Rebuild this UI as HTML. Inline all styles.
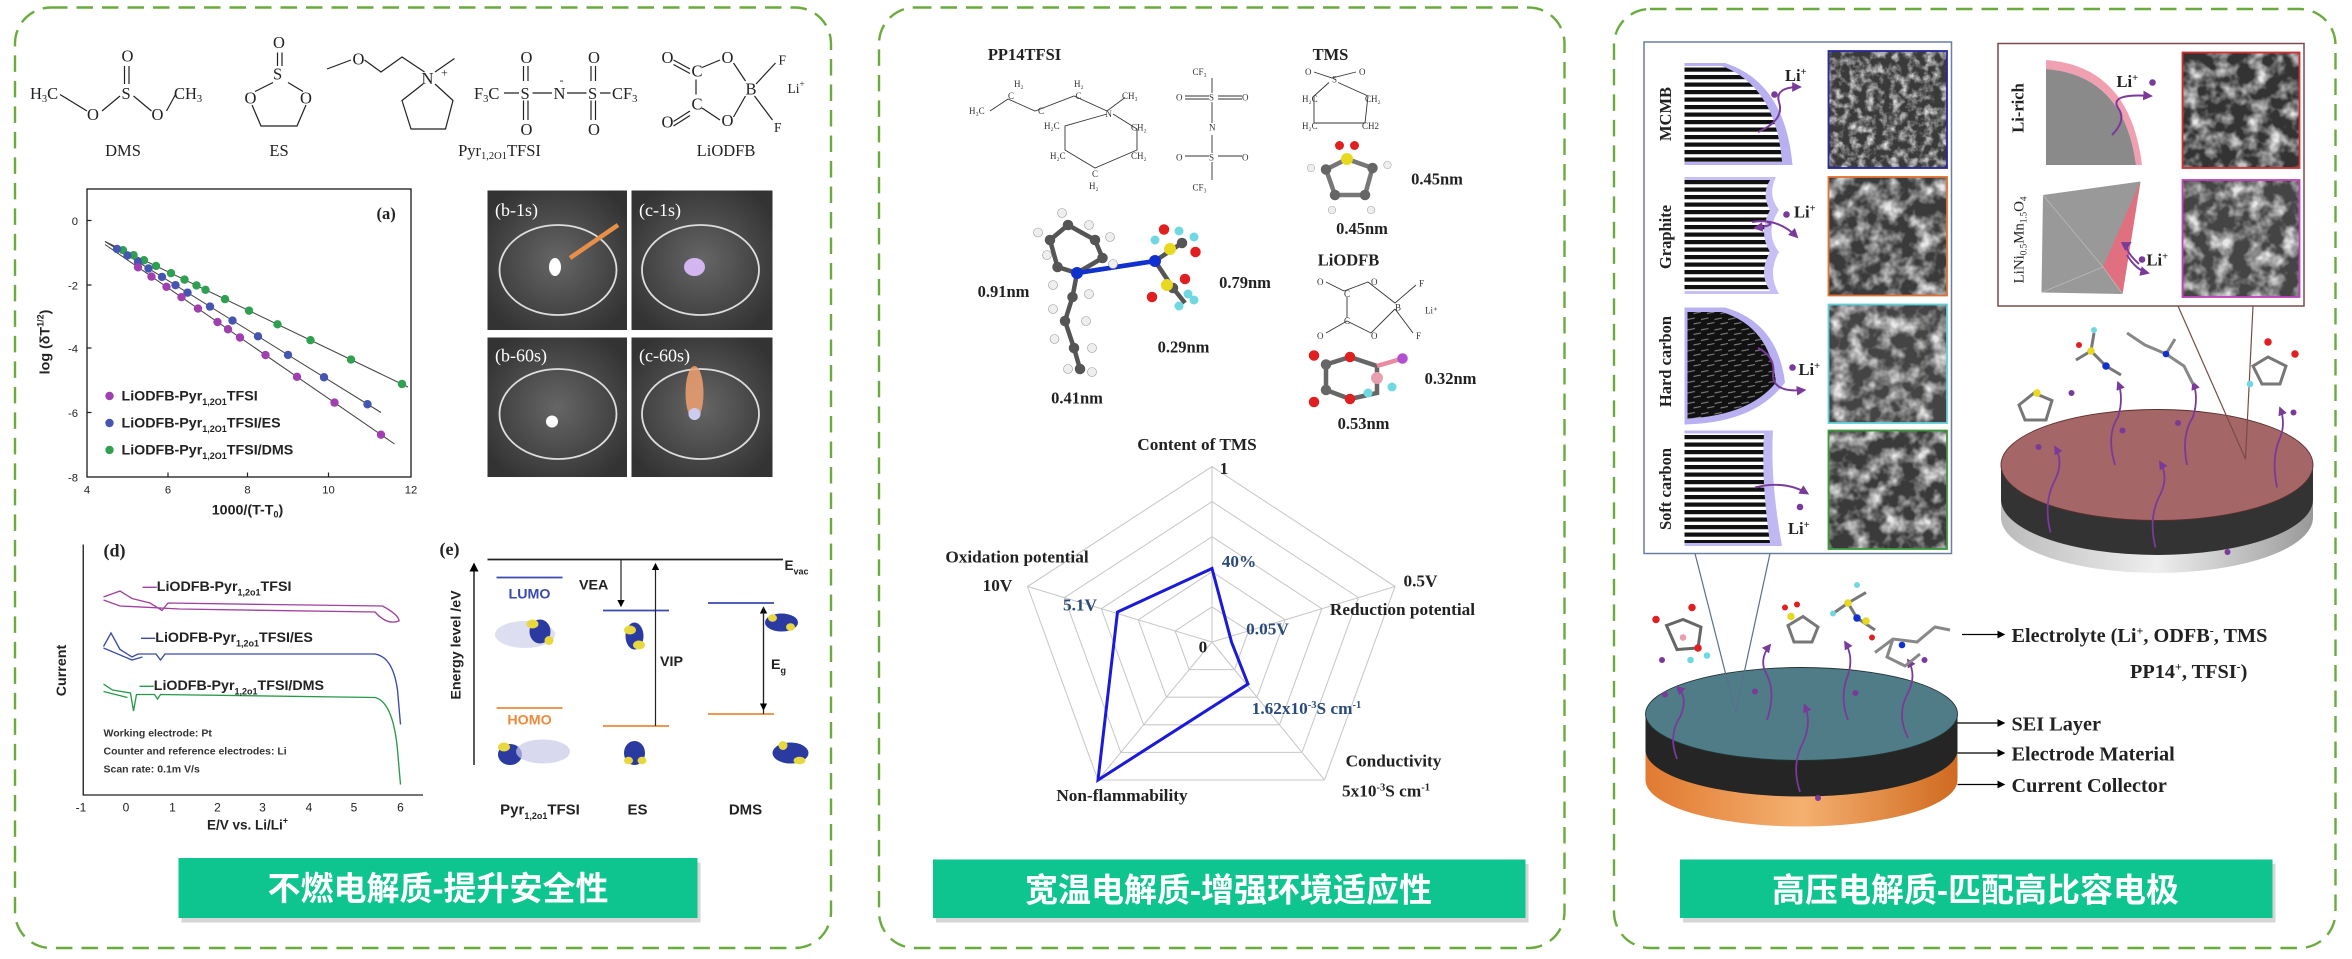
<!DOCTYPE html>
<html><head><meta charset="utf-8"><style>
html,body{margin:0;padding:0;background:#fff;}
svg{display:block;}
.sf{font-family:"Liberation Serif",serif;}
.ss{font-family:"Liberation Sans",sans-serif;}
.cn{font-family:"Liberation Sans","Noto Sans CJK SC",sans-serif;font-weight:bold;fill:#fff;}
</style></head><body>
<svg width="2352" height="959" viewBox="0 0 1568 639.33" preserveAspectRatio="none" xmlns="http://www.w3.org/2000/svg">
<defs>
<filter id="sem" x="0" y="0" width="100%" height="100%">
<feTurbulence type="fractalNoise" baseFrequency="0.18" numOctaves="3" seed="3"/>
<feColorMatrix type="matrix" values="0 0 0 0 0.8  0 0 0 0 0.8  0 0 0 0 0.8  2.2 0 0 0 -0.9"/>
</filter>
<filter id="sem2" x="0" y="0" width="100%" height="100%">
<feTurbulence type="fractalNoise" baseFrequency="0.09" numOctaves="3" seed="8"/>
<feColorMatrix type="matrix" values="0 0 0 0 0.8  0 0 0 0 0.8  0 0 0 0 0.8  2.4 0 0 0 -0.95"/>
</filter>
<pattern id="stripe" width="6" height="5" patternUnits="userSpaceOnUse"><rect width="6" height="5" fill="#fff"/><rect width="6" height="2.8" fill="#111"/></pattern>
<pattern id="hard" width="9" height="7" patternUnits="userSpaceOnUse"><rect width="9" height="7" fill="#111"/><path d="M0,3 L5,2 M4,6 L9,5" stroke="#888" stroke-width="0.7"/></pattern>
<radialGradient id="photo" cx="50%" cy="50%" r="60%"><stop offset="0" stop-color="#666"/><stop offset="1" stop-color="#333"/></radialGradient>
<linearGradient id="orange" x1="0" x2="1"><stop offset="0" stop-color="#e07a30"/><stop offset="0.5" stop-color="#f5b070"/><stop offset="1" stop-color="#d06a20"/></linearGradient>
<linearGradient id="grayb" x1="0" x2="1"><stop offset="0" stop-color="#bbb"/><stop offset="0.5" stop-color="#eee"/><stop offset="1" stop-color="#999"/></linearGradient>
<marker id="ah" markerWidth="6" markerHeight="6" refX="5" refY="3" orient="auto"><path d="M0,0 L6,3 L0,6z" fill="#000"/></marker>
<marker id="ahp" markerWidth="5" markerHeight="5" refX="4" refY="2.5" orient="auto"><path d="M0,0 L5,2.5 L0,5z" fill="#7a3a9a"/></marker>
</defs>

<g fill="none" stroke="#6aab3e" stroke-width="1.6" stroke-dasharray="11,6">
<rect x="10" y="5" width="544" height="627" rx="24"/>
<rect x="586" y="5" width="457" height="627" rx="24"/>
<rect x="1076" y="6" width="481" height="626" rx="24"/>
</g>

<!-- PANEL 1 -->
<g class="sf" font-size="11" fill="#222">
<text x="20" y="66">H<tspan font-size="7" dy="2">3</tspan><tspan dy="-2">C</tspan></text>
<text x="81" y="41">O</text><text x="81" y="66">S</text><text x="58" y="80">O</text><text x="101" y="80">O</text>
<text x="116" y="66">CH<tspan font-size="7" dy="2">3</tspan></text>
<path d="M40,63 L58,74 M68,74 L80,64 M89,64 L101,74 M111,74 L117,63 M83,44 L83,56 M86,44 L86,56" stroke="#222" stroke-width="0.8" fill="none"/>
<text x="82" y="104" text-anchor="middle">DMS</text>
<text x="182" y="32">O</text><text x="182" y="53">S</text><text x="163" y="69">O</text><text x="200" y="69">O</text>
<path d="M185,35 L185,44 M188,35 L188,44 M182,55 L170,61 M192,55 L202,61 M168,70 L174,84 L198,84 L204,70" stroke="#222" stroke-width="0.8" fill="none"/>
<text x="186" y="104" text-anchor="middle">ES</text>
<path d="M218,46 L234,40 M243,40 L254,48 L268,38 L283,48 M290,48 L303,39 M282,56 L268,67 L274,86 L297,86 L302,67 L290,56" stroke="#222" stroke-width="0.8" fill="none"/>
<text x="235" y="43">O</text><text x="281" y="56">N</text><text x="294" y="51" font-size="8">+</text>
<text x="316" y="66">F<tspan font-size="7" dy="2">3</tspan><tspan dy="-2">C</tspan></text>
<text x="347" y="66">S</text><text x="369" y="66">N</text><text x="373" y="56" font-size="8">-</text><text x="392" y="66">S</text>
<text x="408" y="66">CF<tspan font-size="7" dy="2">3</tspan></text>
<text x="347" y="42">O</text><text x="347" y="90">O</text><text x="392" y="42">O</text><text x="392" y="90">O</text>
<path d="M336,62 L346,62 M355,62 L368,62 M378,62 L391,62 M400,62 L407,62 M349,44 L349,54 M352,44 L352,54 M349,67 L349,80 M352,67 L352,80 M394,44 L394,54 M397,44 L397,54 M394,67 L394,80 M397,67 L397,80" stroke="#222" stroke-width="0.8"/>
<text x="333" y="104" text-anchor="middle">Pyr<tspan font-size="7" dy="2">1,2O1</tspan><tspan dy="-2">TFSI</tspan></text>
<text x="441" y="42">O</text><text x="461" y="51">C</text><text x="481" y="42">O</text><text x="497" y="63">B</text><text x="481" y="84">O</text><text x="461" y="73">C</text><text x="441" y="85">O</text>
<text x="519" y="43" font-size="9">F</text><text x="516" y="88" font-size="9">F</text><text x="525" y="62" font-size="9">Li<tspan font-size="6" dy="-4">+</tspan></text>
<path d="M449,40 L460,46 M449,43 L460,49 M468,45 L480,40 M489,42 L497,54 M504,56 L517,42 M503,64 L515,80 M497,64 L489,78 M480,80 L468,72 M464,53 L464,63 M449,81 L460,74 M449,84 L460,77" stroke="#222" stroke-width="0.8" fill="none"/>
<text x="484" y="104" text-anchor="middle">LiODFB</text>
</g>

<g class="ss" font-size="7.5" fill="#222">
<rect x="58" y="126" width="216" height="192" fill="none" stroke="#222" stroke-width="0.9"/>
<g stroke="#222" stroke-width="0.8">
<path d="M58,147 h3 M58,190 h3 M58,232 h3 M58,275 h3 M112,318 v-3 M165,318 v-3 M219,318 v-3"/>
</g>
<text x="52" y="150" text-anchor="end">0</text><text x="52" y="193" text-anchor="end">-2</text><text x="52" y="235" text-anchor="end">-4</text><text x="52" y="278" text-anchor="end">-6</text><text x="52" y="321" text-anchor="end">-8</text>
<text x="58" y="329" text-anchor="middle">4</text><text x="112" y="329" text-anchor="middle">6</text><text x="165" y="329" text-anchor="middle">8</text><text x="219" y="329" text-anchor="middle">10</text><text x="274" y="329" text-anchor="middle">12</text>
<text x="165" y="343" text-anchor="middle" font-weight="bold" font-size="9.5">1000/(T-T<tspan font-size="6" dy="2">0</tspan><tspan dy="-2">)</tspan></text>
<text transform="translate(33,228) rotate(-90)" text-anchor="middle" font-weight="bold" font-size="9.5">log (δT<tspan font-size="6" dy="-4">1/2</tspan><tspan dy="4">)</tspan></text>
<text x="251" y="146" class="sf" font-weight="bold" font-size="11">(a)</text>
<path d="M70,161 L272,258 M70,161 L254,275 M70,163 L263,296" stroke="#444" stroke-width="0.7"/>
<g fill="#2fa050">
<circle cx="82" cy="166.8" r="2.8"/><circle cx="89" cy="170.1" r="2.8"/><circle cx="96" cy="173.5" r="2.8"/><circle cx="104" cy="177.3" r="2.8"/><circle cx="114" cy="182.1" r="2.8"/><circle cx="123" cy="186.4" r="2.8"/><circle cx="131" cy="190.3" r="2.8"/><circle cx="137" cy="193.2" r="2.8"/><circle cx="150" cy="199.4" r="2.8"/><circle cx="166" cy="207.1" r="2.8"/><circle cx="185" cy="216.2" r="2.8"/><circle cx="207" cy="226.8" r="2.8"/><circle cx="234" cy="239.7" r="2.8"/><circle cx="268" cy="256" r="2.8"/>
</g>
<g fill="#4656b0">
<circle cx="78" cy="166" r="2.8"/><circle cx="85" cy="170.3" r="2.8"/><circle cx="92" cy="174.6" r="2.8"/><circle cx="99" cy="179" r="2.8"/><circle cx="108" cy="184.6" r="2.8"/><circle cx="117" cy="190.1" r="2.8"/><circle cx="125" cy="195.1" r="2.8"/><circle cx="140" cy="204.4" r="2.8"/><circle cx="155" cy="213.7" r="2.8"/><circle cx="172" cy="224.2" r="2.8"/><circle cx="192" cy="236.6" r="2.8"/><circle cx="216" cy="251.5" r="2.8"/><circle cx="245" cy="269.5" r="2.8"/>
</g>
<g fill="#a040b0">
<circle cx="92" cy="178.2" r="2.8"/><circle cx="101" cy="184.4" r="2.8"/><circle cx="111" cy="191.2" r="2.8"/><circle cx="121" cy="198.1" r="2.8"/><circle cx="132" cy="205.7" r="2.8"/><circle cx="145" cy="214.7" r="2.8"/><circle cx="152" cy="219.5" r="2.8"/><circle cx="160" cy="225" r="2.8"/><circle cx="177" cy="236.7" r="2.8"/><circle cx="198" cy="251.2" r="2.8"/><circle cx="223" cy="268.4" r="2.8"/><circle cx="254" cy="289.8" r="2.8"/>
</g>
<circle cx="73" cy="264" r="2.8" fill="#a040b0"/><circle cx="73" cy="282" r="2.8" fill="#4656b0"/><circle cx="73" cy="300" r="2.8" fill="#2fa050"/>
<g font-weight="bold" font-size="9.5">
<text x="81" y="267">LiODFB-Pyr<tspan font-size="6" dy="3">1,2O1</tspan><tspan dy="-3">TFSI</tspan></text>
<text x="81" y="285">LiODFB-Pyr<tspan font-size="6" dy="3">1,2O1</tspan><tspan dy="-3">TFSI/ES</tspan></text>
<text x="81" y="303">LiODFB-Pyr<tspan font-size="6" dy="3">1,2O1</tspan><tspan dy="-3">TFSI/DMS</tspan></text>
</g>
</g>

<g>
<rect x="325" y="127" width="93" height="93" fill="url(#photo)"/>
<rect x="421" y="127" width="94" height="93" fill="url(#photo)"/>
<rect x="325" y="225" width="93" height="93" fill="url(#photo)"/>
<rect x="421" y="225" width="94" height="93" fill="url(#photo)"/>
<g fill="none" stroke="#ddd" stroke-width="1.2">
<ellipse cx="372" cy="180" rx="39" ry="30"/><ellipse cx="467" cy="180" rx="39" ry="30"/>
<ellipse cx="372" cy="276" rx="39" ry="30"/><ellipse cx="467" cy="276" rx="39" ry="30"/>
</g>
<path d="M380,172 L412,150" stroke="#e8904a" stroke-width="3"/>
<ellipse cx="370" cy="178" rx="4" ry="6" fill="#fff"/>
<ellipse cx="463" cy="178" rx="7" ry="6" fill="#e0c0ff" opacity="0.9"/>
<ellipse cx="368" cy="281" rx="4" ry="4" fill="#fff"/>
<ellipse cx="463" cy="262" rx="6" ry="18" fill="#f0a070" opacity="0.85"/>
<ellipse cx="463" cy="276" rx="4" ry="4" fill="#cce"/>
<g class="sf" fill="#fff" font-size="12">
<text x="330" y="144">(b-1s)</text><text x="426" y="144">(c-1s)</text>
<text x="330" y="241">(b-60s)</text><text x="426" y="241">(c-60s)</text>
</g>
</g>

<g class="ss" fill="#222">
<path d="M55.5,363 L55.5,530 L282,530" fill="none" stroke="#222" stroke-width="0.9"/>
<g font-size="8"><text x="54" y="541" text-anchor="middle">-1</text><text x="84" y="541" text-anchor="middle">0</text><text x="115" y="541" text-anchor="middle">1</text><text x="145" y="541" text-anchor="middle">2</text><text x="175" y="541" text-anchor="middle">3</text><text x="206" y="541" text-anchor="middle">4</text><text x="236" y="541" text-anchor="middle">5</text><text x="267" y="541" text-anchor="middle">6</text></g>
<text x="165" y="553" text-anchor="middle" font-weight="bold" font-size="9">E/V vs. Li/Li<tspan font-size="6" dy="-4">+</tspan></text>
<text transform="translate(44,447) rotate(-90)" text-anchor="middle" font-weight="bold" font-size="9.5">Current</text>
<text x="69" y="371" class="sf" font-weight="bold" font-size="12">(d)</text>
<path d="M69,398 L80,394 L88,399 L100,402 L108,407 L112,402 L180,403 L255,404 Q266,410 266,414 Q258,417 250,408 L120,406 L80,404 L69,400" fill="none" stroke="#a040a0" stroke-width="0.9"/>
<path d="M69,431 L74,422 L80,433 L88,438 L92,436 L104,436 L107,440 L110,436 L250,436 Q262,438 265,460 L267,483" fill="none" stroke="#3a4aa8" stroke-width="0.9"/>
<path d="M69,432 L88,440 L95,438" fill="none" stroke="#3a4aa8" stroke-width="0.9"/>
<path d="M69,456 L75,460 L87,462 L89,474 L91,463 L103,463 L105,466 L107,463 L250,465 Q262,468 265,500 L267,523" fill="none" stroke="#2a9a4a" stroke-width="0.9"/>
<path d="M69,461 L85,465" fill="none" stroke="#2a9a4a" stroke-width="0.9"/>
<g font-weight="bold" font-size="9.5">
<text x="95" y="394"><tspan fill="#a040a0">—</tspan>LiODFB-Pyr<tspan font-size="6" dy="3">1,2o1</tspan><tspan dy="-3">TFSI</tspan></text>
<text x="94" y="428"><tspan fill="#3a4aa8">—</tspan>LiODFB-Pyr<tspan font-size="6" dy="3">1,2o1</tspan><tspan dy="-3">TFSI/ES</tspan></text>
<text x="93" y="460"><tspan fill="#2a9a4a">—</tspan>LiODFB-Pyr<tspan font-size="6" dy="3">1,2o1</tspan><tspan dy="-3">TFSI/DMS</tspan></text>
</g>
<g font-size="7" font-weight="bold" fill="#333">
<text x="69" y="491">Working electrode: Pt</text>
<text x="69" y="503">Counter and reference electrodes: Li</text>
<text x="69" y="515">Scan rate: 0.1m V/s</text>
</g>
</g>

<g class="ss" fill="#222">
<text x="293" y="370" class="sf" font-weight="bold" font-size="12">(e)</text>
<path d="M316,510 L316,376" stroke="#222" stroke-width="1" marker-end="url(#ah)"/>
<path d="M325,373 L522,373" stroke="#222" stroke-width="1.2"/>
<text x="523" y="380" font-weight="bold" font-size="9">E<tspan font-size="6" dy="3">vac</tspan></text>
<text transform="translate(307,430) rotate(-90)" text-anchor="middle" font-weight="bold" font-size="9.5">Energy level /eV</text>
<path d="M331,385 L375,385 M402,407 L446,407 M472,402 L516,402" stroke="#3a4ab0" stroke-width="1.2"/>
<path d="M331,472 L375,472 M402,484 L446,484 M472,476 L516,476" stroke="#ee8a3a" stroke-width="1.2"/>
<text x="353" y="399" text-anchor="middle" font-weight="bold" font-size="9.5" fill="#3a4ab0">LUMO</text>
<text x="353" y="483" text-anchor="middle" font-weight="bold" font-size="9.5" fill="#ee8a3a">HOMO</text>
<path d="M414,373 L414,404" stroke="#222" stroke-width="0.8" marker-end="url(#ah)"/>
<text x="386" y="393" font-weight="bold" font-size="9.5">VEA</text>
<path d="M437,484 L437,376" stroke="#222" stroke-width="0.8" marker-end="url(#ah)"/>
<text x="440" y="444" font-weight="bold" font-size="9.5">VIP</text>
<path d="M509,476 L509,405" stroke="#222" stroke-width="0.8" marker-end="url(#ah)"/>
<path d="M509,405 L509,473" stroke="#222" stroke-width="0.8" marker-end="url(#ah)"/>
<text x="514" y="446" font-weight="bold" font-size="9.5">E<tspan font-size="6" dy="3">g</tspan></text>
<g>
<ellipse cx="350" cy="423" rx="20" ry="9" fill="#c8c8e8" opacity="0.6"/>
<ellipse cx="360" cy="421" rx="7" ry="8" fill="#2a3aa0"/><ellipse cx="355" cy="416" rx="4" ry="3" fill="#e8d840"/><ellipse cx="366" cy="427" rx="3" ry="3" fill="#e8d840"/>
<ellipse cx="340" cy="503" rx="8" ry="7" fill="#2a3aa0"/><ellipse cx="336" cy="498" rx="4" ry="3" fill="#e8d840"/>
<ellipse cx="362" cy="501" rx="18" ry="8" fill="#c8c8e8" opacity="0.7"/>
<ellipse cx="423" cy="424" rx="6" ry="9" fill="#2a3aa0"/><ellipse cx="420" cy="420" rx="4" ry="3" fill="#e8d840"/><ellipse cx="426" cy="430" rx="4" ry="3" fill="#e8d840"/>
<ellipse cx="423" cy="502" rx="7" ry="8" fill="#2a3aa0"/><ellipse cx="419" cy="507" rx="3" ry="2.5" fill="#e8d840"/><ellipse cx="428" cy="507" rx="3" ry="2.5" fill="#e8d840"/>
<ellipse cx="521" cy="415" rx="11" ry="6" fill="#2a3aa0"/><ellipse cx="515" cy="412" rx="3" ry="2.5" fill="#e8d840"/><ellipse cx="527" cy="418" rx="3" ry="2.5" fill="#e8d840"/>
<ellipse cx="527" cy="502" rx="12" ry="7" fill="#2a3aa0"/><ellipse cx="522" cy="497" rx="3" ry="3" fill="#e8d840"/><ellipse cx="533" cy="507" rx="4" ry="2.5" fill="#e8d840"/>
</g>
<g font-weight="bold" font-size="10">
<text x="360" y="543" text-anchor="middle">Pyr<tspan font-size="6" dy="3">1,2o1</tspan><tspan dy="-3">TFSI</tspan></text>
<text x="425" y="543" text-anchor="middle">ES</text>
<text x="497" y="543" text-anchor="middle">DMS</text>
</g>
</g>

<rect x="121" y="575" width="346" height="40" fill="#bbb" opacity="0.6"/>
<rect x="119" y="572" width="346" height="40" fill="#0ec48f"/>
<text x="292" y="600" text-anchor="middle" class="cn" font-size="22">不燃电解质-提升安全性</text>

<!-- PANEL 2 -->
<g class="sf" font-weight="bold" fill="#222">
<text x="683" y="40" text-anchor="middle" font-size="11">PP14TFSI</text>
<text x="887" y="40" text-anchor="middle" font-size="11">TMS</text>
<text x="899" y="177" text-anchor="middle" font-size="11">LiODFB</text>
</g>
<g class="sf" font-size="6" fill="#333" stroke="none">
<text x="646" y="76">H₃C</text><text x="676" y="58">H₂</text><text x="672" y="66">C</text><text x="692" y="76">C</text><text x="716" y="58">H₂</text><text x="717" y="66">C</text>
<text x="737" y="78">N</text><text x="748" y="66">CH₃</text><text x="696" y="86">H₂C</text><text x="754" y="87">CH₂</text>
<text x="700" y="106">H₂C</text><text x="754" y="106">CH₂</text><text x="728" y="118">C</text><text x="726" y="126">H₂</text>
<text x="795" y="50">CF₃</text><text x="784" y="67">O</text><text x="806" y="67">S</text><text x="828" y="67">O</text><text x="806" y="87">N</text><text x="784" y="107">O</text><text x="806" y="107">S</text><text x="828" y="107">O</text><text x="795" y="127">CF₃</text>
<text x="870" y="50">O</text><text x="888" y="55">S</text><text x="906" y="50">O</text><text x="868" y="68">H₂C</text><text x="910" y="68">CH₂</text><text x="868" y="86">H₂C</text><text x="908" y="86">CH2</text>
<text x="878" y="190">O</text><text x="896" y="198">C</text><text x="914" y="190">O</text><text x="930" y="207">B</text><text x="946" y="191">F</text><text x="950" y="209">Li⁺</text><text x="944" y="226">F</text><text x="878" y="226">O</text><text x="896" y="216">C</text><text x="914" y="226">O</text>
</g>
<g stroke="#333" stroke-width="0.6" fill="none">
<path d="M660,74 L672,66 L690,74 L716,64 L738,74 L750,65 M738,76 L710,84 L710,100 L730,112 L758,100 L758,86 L742,76"/>
<path d="M808,52 L808,62 M790,64 L806,64 M812,64 L828,64 M790,66 L806,66 M812,66 L828,66 M808,68 L808,82 M808,90 L808,102 M790,104 L806,104 M812,104 L828,104 M808,108 L808,120"/>
<path d="M876,48 L888,52 L904,48 M886,55 L876,64 L876,82 L910,82 L912,64 L892,55"/>
<path d="M884,188 L896,194 L912,188 L930,202 L944,190 M930,206 L942,222 M930,206 L914,222 L898,214 L884,222 M898,198 L898,212"/>
</g>
<g>
<path d="M884,113 L898,106 L915,112 L910,130 L890,130z" fill="none" stroke="#777" stroke-width="3"/>
<circle cx="898" cy="106" r="4" fill="#e8d820"/><circle cx="893" cy="97" r="3" fill="#e02020"/><circle cx="903" cy="97" r="3" fill="#e02020"/>
<circle cx="884" cy="113" r="3.5" fill="#666"/><circle cx="915" cy="112" r="3.5" fill="#666"/><circle cx="910" cy="130" r="3.5" fill="#666"/><circle cx="890" cy="130" r="3.5" fill="#666"/>
<circle cx="874" cy="112" r="2.5" fill="#eee" stroke="#aaa" stroke-width="0.4"/><circle cx="925" cy="110" r="2.5" fill="#eee" stroke="#aaa" stroke-width="0.4"/><circle cx="888" cy="140" r="2.5" fill="#eee" stroke="#aaa" stroke-width="0.4"/><circle cx="914" cy="140" r="2.5" fill="#eee" stroke="#aaa" stroke-width="0.4"/>
</g>
<g>
<path d="M700,160 L712,150 L730,160 L735,172 L718,182 L705,178z M718,182 L715,198 L710,214 L716,232 L720,246 M718,182 L770,174 L788,162 M770,174 L782,192 L790,202" fill="none" stroke="#555" stroke-width="3"/>
<path d="M718,182 L770,174" stroke="#1030d0" stroke-width="3"/>
<g fill="#eee" stroke="#999" stroke-width="0.4">
<circle cx="692" cy="155" r="3"/><circle cx="708" cy="142" r="3"/><circle cx="726" cy="150" r="3"/><circle cx="740" cy="158" r="3"/><circle cx="742" cy="176" r="3"/><circle cx="698" cy="170" r="3"/><circle cx="702" cy="190" r="3"/><circle cx="726" cy="196" r="3"/><circle cx="702" cy="206" r="3"/><circle cx="724" cy="214" r="3"/><circle cx="703" cy="226" r="3"/><circle cx="728" cy="232" r="3"/><circle cx="712" cy="246" r="3"/><circle cx="728" cy="248" r="3"/>
</g>
<g fill="#555"><circle cx="700" cy="160" r="3.5"/><circle cx="712" cy="150" r="3.5"/><circle cx="730" cy="160" r="3.5"/><circle cx="735" cy="172" r="3.5"/><circle cx="705" cy="178" r="3.5"/><circle cx="715" cy="198" r="3.5"/><circle cx="710" cy="214" r="3.5"/><circle cx="716" cy="232" r="3.5"/><circle cx="720" cy="246" r="3.5"/><circle cx="788" cy="162" r="3.5"/><circle cx="782" cy="192" r="3.5"/></g>
<circle cx="718" cy="182" r="4" fill="#1030d0"/><circle cx="770" cy="174" r="4" fill="#1030d0"/>
<circle cx="780" cy="166" r="4" fill="#e8d820"/><circle cx="778" cy="190" r="4" fill="#e8d820"/>
<g fill="#e02020"><circle cx="776" cy="153" r="3.5"/><circle cx="797" cy="168" r="3.5"/><circle cx="768" cy="198" r="3.5"/><circle cx="790" cy="186" r="3.5"/></g>
<g fill="#70d8e0"><circle cx="786" cy="154" r="3"/><circle cx="796" cy="158" r="3"/><circle cx="770" cy="160" r="3"/><circle cx="792" cy="196" r="3"/><circle cx="786" cy="204" r="3"/><circle cx="796" cy="200" r="3"/></g>
</g>
<g>
<path d="M884,243 L900,238 L918,244 L918,262 L900,266 L884,260z" fill="none" stroke="#666" stroke-width="3"/>
<path d="M918,244 L935,239" stroke="#e88aa0" stroke-width="3"/>
<circle cx="884" cy="243" r="3.5" fill="#666"/><circle cx="884" cy="260" r="3.5" fill="#666"/>
<g fill="#e02020"><circle cx="876" cy="237" r="3.5"/><circle cx="876" cy="268" r="3.5"/><circle cx="900" cy="238" r="3.5"/><circle cx="900" cy="266" r="3.5"/></g>
<circle cx="918" cy="252" r="4" fill="#e8a0b0"/><circle cx="935" cy="239" r="3.5" fill="#b050d0"/><circle cx="928" cy="258" r="3" fill="#70d8e0"/><circle cx="912" cy="262" r="3" fill="#70d8e0"/>
</g>
<g class="sf" font-weight="bold" font-size="11" fill="#222">
<text x="958" y="123" text-anchor="middle">0.45nm</text>
<text x="908" y="156" text-anchor="middle">0.45nm</text>
<text x="669" y="198" text-anchor="middle">0.91nm</text>
<text x="830" y="192" text-anchor="middle">0.79nm</text>
<text x="789" y="235" text-anchor="middle">0.29nm</text>
<text x="718" y="269" text-anchor="middle">0.41nm</text>
<text x="967" y="256" text-anchor="middle">0.32nm</text>
<text x="909" y="286" text-anchor="middle">0.53nm</text>
</g>
<g fill="none" stroke="#c8c8c8" stroke-width="0.7">
<polygon points="808,311 930,391 883,520 732,520 685,391"/>
<polygon points="808,334.4 905.6,398.4 868,501.6 747.2,501.6 709.6,398.4"/>
<polygon points="808,357.8 881.2,405.8 853,483.2 762.4,483.2 734.2,405.8"/>
<polygon points="808,381.2 856.8,413.2 838,464.8 777.6,464.8 758.8,413.2"/>
<polygon points="808,404.6 832.4,420.6 823,446.4 792.8,446.4 783.4,420.6"/>
<path d="M808,428 L808,311 M808,428 L930,391 M808,428 L883,520 M808,428 L732,520 M808,428 L685,391"/>
</g>
<polygon points="808,379 821,428 832,456 732,520 745,408" fill="none" stroke="#1a1ad8" stroke-width="2"/>
<g class="sf" font-weight="bold" font-size="11.5" fill="#222">
<text x="798" y="300" text-anchor="middle">Content of TMS</text>
<text x="816" y="316" text-anchor="middle">1</text>
<text x="678" y="375" text-anchor="middle">Oxidation potential</text>
<text x="665" y="394" text-anchor="middle">10V</text>
<text x="947" y="391" text-anchor="middle">0.5V</text>
<text x="935" y="410" text-anchor="middle">Reduction potential</text>
<text x="802" y="435" text-anchor="middle">0</text>
<text x="929" y="511" text-anchor="middle">Conductivity</text>
<text x="924" y="531" text-anchor="middle">5x10<tspan font-size="7" dy="-4">-3</tspan><tspan dy="4">S cm</tspan><tspan font-size="7" dy="-4">-1</tspan></text>
<text x="748" y="534" text-anchor="middle">Non-flammability</text>
<g fill="#2a4a7a">
<text x="720" y="407" text-anchor="middle">5.1V</text>
<text x="826" y="378" text-anchor="middle">40%</text>
<text x="845" y="423" text-anchor="middle">0.05V</text>
<text x="871" y="476" text-anchor="middle">1.62x10<tspan font-size="7" dy="-4">-3</tspan><tspan dy="4">S cm</tspan><tspan font-size="7" dy="-4">-1</tspan></text>
</g>
</g>
<rect x="624" y="576" width="395" height="39" fill="#bbb" opacity="0.6"/>
<rect x="622" y="573" width="395" height="39" fill="#0ec48f"/>
<text x="819" y="601" text-anchor="middle" class="cn" font-size="22">宽温电解质-增强环境适应性</text>

<!-- PANEL 3 -->
<rect x="1096" y="28" width="205" height="341" fill="#fff" stroke="#6a7f9f" stroke-width="1"/>
<g>
<path d="M1123,42 L1150,42 Q1190,55 1195,110 L1123,110z" fill="#b8b0f0"/>
<path d="M1123,44 L1148,44 Q1184,58 1188,108 L1123,108z" fill="url(#stripe)"/>
<path d="M1123,118 L1184,118 Q1178,130 1186,140 Q1176,155 1186,168 Q1178,182 1186,196 L1123,196z" fill="#c8c0f4"/>
<path d="M1123,120 L1180,120 Q1174,130 1180,140 Q1172,155 1180,168 Q1172,182 1180,194 L1123,194z" fill="url(#stripe)"/>
<path d="M1123,205 L1150,205 Q1185,215 1190,255 Q1170,282 1123,283z" fill="#b8b0f0"/>
<path d="M1125,208 L1148,208 Q1180,218 1184,255 Q1166,277 1125,279z" fill="url(#hard)"/>
<path d="M1123,287 L1182,287 Q1180,320 1188,364 L1123,364z" fill="#c0b8f2"/>
<path d="M1123,289 L1176,289 Q1174,320 1180,362 L1123,362z" fill="url(#stripe)"/>
</g>
<g fill="none" stroke="#7a3a9a" stroke-width="1.3" marker-end="url(#ahp)">
<path d="M1172,88 Q1190,80 1186,68 Q1183,58 1200,58"/>
<path d="M1168,148 Q1185,145 1198,158"/>
<path d="M1178,148 Q1185,150 1170,152"/>
<path d="M1172,232 Q1184,238 1182,250 Q1182,262 1203,260"/>
<path d="M1170,325 Q1190,320 1205,329"/>
</g>
<g fill="#7a3a9a"><circle cx="1183" cy="63" r="2.2"/><circle cx="1191" cy="143" r="2.2"/><circle cx="1195" cy="245" r="2.2"/><circle cx="1200" cy="338" r="2.2"/></g>
<g class="sf" font-weight="bold" font-size="11" fill="#222">
<text x="1190" y="54">Li<tspan font-size="7" dy="-4">+</tspan></text>
<text x="1196" y="145">Li<tspan font-size="7" dy="-4">+</tspan></text>
<text x="1199" y="250">Li<tspan font-size="7" dy="-4">+</tspan></text>
<text x="1192" y="356">Li<tspan font-size="7" dy="-4">+</tspan></text>
<text transform="translate(1114,76) rotate(-90)" text-anchor="middle">MCMB</text>
<text transform="translate(1114,158) rotate(-90)" text-anchor="middle">Graphite</text>
<text transform="translate(1114,241) rotate(-90)" text-anchor="middle">Hard carbon</text>
<text transform="translate(1114,326) rotate(-90)" text-anchor="middle">Soft carbon</text>
</g>
<g>
<rect x="1219" y="34" width="79" height="78" fill="#3a3a3a"/><rect x="1219" y="34" width="79" height="78" filter="url(#sem)"/>
<rect x="1219" y="118" width="79" height="79" fill="#3a3a3a"/><rect x="1219" y="118" width="79" height="79" filter="url(#sem2)"/>
<rect x="1219" y="203" width="79" height="79" fill="#444"/><rect x="1219" y="203" width="79" height="79" filter="url(#sem2)"/>
<rect x="1219" y="287" width="79" height="79" fill="#3a3a3a"/><rect x="1219" y="287" width="79" height="79" filter="url(#sem2)"/>
<rect x="1219" y="34" width="79" height="78" fill="none" stroke="#2828a0" stroke-width="1.2"/>
<rect x="1219" y="118" width="79" height="79" fill="none" stroke="#e07030" stroke-width="1.2"/>
<rect x="1219" y="203" width="79" height="79" fill="none" stroke="#60d0d8" stroke-width="1.2"/>
<rect x="1219" y="287" width="79" height="79" fill="none" stroke="#3a9a3a" stroke-width="1.2"/>
</g>
<rect x="1332" y="29" width="204" height="175" fill="#fff" stroke="#7a4a4a" stroke-width="1"/>
<path d="M1364,40 Q1420,44 1428,110 L1424,110 Q1416,50 1364,46z" fill="#f0a0b0"/>
<path d="M1364,46 Q1416,50 1424,110 L1364,110z" fill="#8a8a8a"/>
<path d="M1362,130 L1427,121 L1415,196 L1361,195z" fill="#999"/>
<path d="M1427,121 L1415,196 L1402,178z" fill="#e07080"/>
<path d="M1362,130 L1402,178 L1361,195 M1402,178 L1415,196" stroke="#bbb" stroke-width="0.5" fill="none"/>
<g fill="none" stroke="#7a3a9a" stroke-width="1.3" marker-end="url(#ahp)">
<path d="M1408,90 Q1418,80 1412,72 Q1406,62 1434,64"/>
<path d="M1418,170 Q1424,180 1432,182"/>
<path d="M1426,176 Q1414,165 1420,162"/>
</g>
<g fill="#7a3a9a"><circle cx="1435" cy="55" r="2.2"/><circle cx="1428" cy="173" r="2.2"/></g>
<g class="sf" font-weight="bold" font-size="11" fill="#222">
<text x="1411" y="58">Li<tspan font-size="7" dy="-4">+</tspan></text>
<text x="1431" y="177">Li<tspan font-size="7" dy="-4">+</tspan></text>
<text transform="translate(1349,72) rotate(-90)" text-anchor="middle">Li-rich</text>
<text transform="translate(1349,160) rotate(-90)" text-anchor="middle" font-weight="normal" font-size="10">LiNi<tspan font-size="6" dy="2">0.5</tspan><tspan dy="-2">Mn</tspan><tspan font-size="6" dy="2">1.5</tspan><tspan dy="-2">O</tspan><tspan font-size="6" dy="2">4</tspan></text>
</g>
<rect x="1455" y="35" width="78" height="77" fill="#333"/><rect x="1455" y="35" width="78" height="77" filter="url(#sem2)"/>
<rect x="1455" y="120" width="78" height="78" fill="#444"/><rect x="1455" y="120" width="78" height="78" filter="url(#sem2)"/>
<rect x="1455" y="35" width="78" height="77" fill="none" stroke="#d03030" stroke-width="1.2"/>
<rect x="1455" y="120" width="78" height="78" fill="none" stroke="#c040c0" stroke-width="1.2"/>

<path d="M1334,313 L1334,345 A104,37 0 0 0 1542,345 L1542,313z" fill="url(#grayb)"/>
<path d="M1334,313 L1334,333 A104,37 0 0 0 1542,333 L1542,313z" fill="#333"/>
<ellipse cx="1438" cy="310" rx="104" ry="37" fill="#a46666" stroke="#5a3030" stroke-width="0.6"/>
<path d="M1097,476 L1097,520 A104,31 0 0 0 1305,520 L1305,476z" fill="url(#orange)"/>
<path d="M1097,476 L1097,500 A104,31 0 0 0 1305,500 L1305,476z" fill="#252525"/>
<ellipse cx="1201" cy="476" rx="104" ry="31" fill="#4f7c86" stroke="#233" stroke-width="0.6"/>
<path d="M1130,369 L1157,475 L1180,369" fill="none" stroke="#5a6f8f" stroke-width="0.8"/>
<path d="M1452,204 L1497,306 L1502,204" fill="none" stroke="#7a4a4a" stroke-width="0.8"/>

<g fill="none" stroke="#7a3a9a" stroke-width="1.2" marker-end="url(#ahp)">
<path d="M1118,506 Q1112,490 1120,478 Q1126,465 1118,458"/>
<path d="M1178,480 Q1184,462 1178,450 Q1172,440 1180,430"/>
<path d="M1200,528 Q1194,510 1202,495 Q1208,482 1203,470"/>
<path d="M1232,480 Q1226,465 1232,450 Q1236,438 1230,428"/>
<path d="M1272,492 Q1264,476 1272,462 Q1278,450 1272,440"/>
<path d="M1367,355 Q1362,335 1370,320 Q1376,308 1370,298"/>
<path d="M1410,310 Q1404,290 1412,278 Q1416,265 1412,255"/>
<path d="M1437,365 Q1432,345 1440,330 Q1446,318 1440,308"/>
<path d="M1458,310 Q1454,290 1462,278 Q1466,265 1462,255"/>
<path d="M1518,325 Q1514,305 1520,292 Q1524,282 1520,272"/>
</g>
<g fill="#7a3a9a">
<circle cx="1110" cy="463" r="2"/><circle cx="1170" cy="461" r="2"/><circle cx="1212" cy="532" r="2"/><circle cx="1237" cy="462" r="2"/><circle cx="1283" cy="440" r="2"/><circle cx="1108" cy="440" r="2"/>
<circle cx="1359" cy="298" r="2"/><circle cx="1415" cy="287" r="2"/><circle cx="1452" cy="282" r="2"/><circle cx="1485" cy="368" r="2"/><circle cx="1529" cy="275" r="2"/><circle cx="1381" cy="262" r="2"/>
</g>
<g>
<path d="M1111,417 L1122,413 L1134,418 L1132,432 L1118,433z" fill="none" stroke="#666" stroke-width="2"/>
<g fill="#e02020"><circle cx="1104" cy="413" r="2.5"/><circle cx="1128" cy="405" r="2.5"/><circle cx="1132" cy="432" r="2.5"/></g>
<circle cx="1138" cy="437" r="2.2" fill="#70d8e0"/><circle cx="1127" cy="440" r="2.2" fill="#70d8e0"/><circle cx="1122" cy="425" r="2.2" fill="#e8a0b0"/>
<path d="M1192,417 L1202,411 L1212,418 L1208,428 L1196,428z" fill="none" stroke="#777" stroke-width="2"/>
<circle cx="1194" cy="411" r="2.5" fill="#e8d820"/><circle cx="1190" cy="405" r="2" fill="#e02020"/><circle cx="1198" cy="403" r="2" fill="#e02020"/>
<path d="M1222,409 L1232,402 L1244,395 M1232,402 L1238,412 L1250,420" fill="none" stroke="#777" stroke-width="2"/>
<circle cx="1232" cy="402" r="2.5" fill="#e8d820"/><circle cx="1238" cy="412" r="2.5" fill="#1030d0"/><circle cx="1244" cy="414" r="2.5" fill="#e8d820"/><circle cx="1238" cy="390" r="2" fill="#70d8e0"/><circle cx="1222" cy="409" r="2" fill="#70d8e0"/><circle cx="1248" cy="425" r="2" fill="#e02020"/>
<path d="M1250,435 L1262,426 L1278,428 L1290,418 L1300,420 M1262,426 L1258,438 L1270,444 L1280,436" fill="none" stroke="#888" stroke-width="2"/>
<circle cx="1268" cy="430" r="2.2" fill="#1030d0"/>
<path d="M1346,270 L1356,262 L1368,267 L1364,280 L1350,280z" fill="none" stroke="#777" stroke-width="2"/><circle cx="1358" cy="262" r="2.5" fill="#e8d820"/>
<path d="M1384,240 L1394,234 L1404,244 L1414,250 M1394,234 L1396,222" fill="none" stroke="#777" stroke-width="2"/><circle cx="1394" cy="234" r="2.5" fill="#e8d820"/><circle cx="1404" cy="244" r="2.5" fill="#1030d0"/><circle cx="1396" cy="220" r="2" fill="#70d8e0"/><circle cx="1386" cy="230" r="2" fill="#e02020"/>
<path d="M1418,222 L1430,230 L1444,236 L1456,244 L1462,256 M1444,236 L1450,226" fill="none" stroke="#888" stroke-width="2"/><circle cx="1444" cy="236" r="2.2" fill="#1030d0"/>
<path d="M1502,244 L1512,238 L1524,244 L1520,256 L1508,256z" fill="none" stroke="#777" stroke-width="2"/><circle cx="1512" cy="228" r="2.5" fill="#e02020"/><circle cx="1500" cy="256" r="2.2" fill="#70d8e0"/><circle cx="1530" cy="236" r="2.5" fill="#e02020"/>
</g>
<g stroke="#000" stroke-width="0.9" marker-end="url(#ah)">
<path d="M1308,423 L1336,423"/>
<path d="M1305,482 L1336,482"/>
<path d="M1305,502 L1336,502"/>
<path d="M1305,523 L1336,523"/>
</g>
<g class="sf" font-weight="bold" font-size="13.5" fill="#222">
<text x="1341" y="428">Electrolyte (Li<tspan font-size="8" dy="-5">+</tspan><tspan dy="5">, ODFB</tspan><tspan font-size="8" dy="-5">-</tspan><tspan dy="5">, TMS</tspan></text>
<text x="1420" y="452">PP14<tspan font-size="8" dy="-5">+</tspan><tspan dy="5">, TFSI</tspan><tspan font-size="8" dy="-5">-</tspan><tspan dy="5">)</tspan></text>
<text x="1341" y="487">SEI Layer</text>
<text x="1341" y="507">Electrode Material</text>
<text x="1341" y="528">Current Collector</text>
</g>
<rect x="1122" y="576" width="395" height="39" fill="#bbb" opacity="0.6"/>
<rect x="1120" y="573" width="395" height="39" fill="#0ec48f"/>
<text x="1317" y="601" text-anchor="middle" class="cn" font-size="22">高压电解质-匹配高比容电极</text>
</svg>
</body></html>
